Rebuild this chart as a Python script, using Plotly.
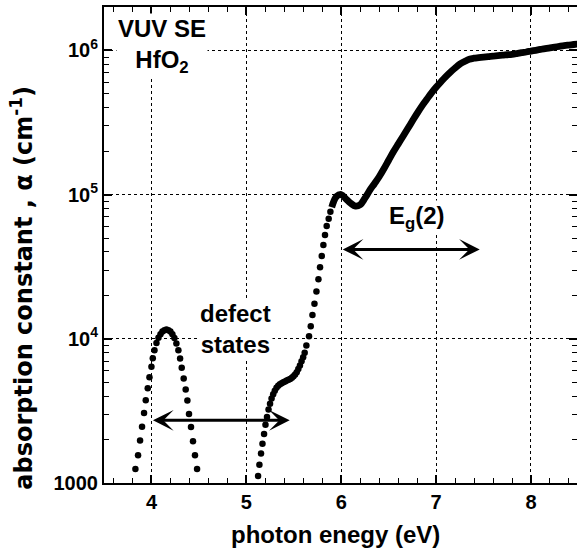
import math
import plotly.graph_objects as go

# ---- data (photon energy in eV, absorption in cm^-1) ----
defect_E = [3.831, 3.859, 3.880, 3.901, 3.922, 3.940, 3.961, 3.979, 4.000, 4.014,
            4.032, 4.053, 4.074, 4.095, 4.116, 4.137, 4.158, 4.179, 4.200, 4.221,
            4.242, 4.263, 4.284, 4.302, 4.319, 4.340, 4.361, 4.379, 4.396, 4.417,
            4.438, 4.459, 4.481, 4.502]
defect_alpha = [1.25e3, 1.56e3, 1.97e3, 2.46e3, 3.06e3, 3.75e3, 4.54e3, 5.41e3, 6.39e3, 7.34e3,
                8.34e3, 9.37e3, 1.016e4, 1.076e4, 1.122e4, 1.148e4, 1.159e4, 1.148e4, 1.122e4, 1.076e4,
                1.012e4, 9.29e3, 8.34e3, 7.30e3, 6.29e3, 5.30e3, 4.45e3, 3.73e3, 3.01e3, 2.45e3,
                1.95e3, 1.56e3, 1.25e3, 1.00e3]

edge_E = [5.124, 5.138, 5.155, 5.170, 5.187, 5.202, 5.218, 5.234, 5.250, 5.266,
          5.283, 5.300, 5.318, 5.336, 5.354, 5.372, 5.390, 5.408, 5.426, 5.444,
          5.462, 5.480, 5.497, 5.514, 5.531, 5.548, 5.565, 5.582, 5.599, 5.615,
          5.633, 5.661, 5.679, 5.697, 5.718, 5.739, 5.760, 5.777, 5.795, 5.812,
          5.829, 5.847, 5.868, 5.886]
edge_alpha = [1.12e3, 1.34e3, 1.60e3, 1.87e3, 2.19e3, 2.53e3, 2.87e3, 3.24e3, 3.55e3, 3.85e3,
              4.12e3, 4.37e3, 4.57e3, 4.73e3, 4.84e3, 4.92e3, 4.99e3, 5.06e3, 5.13e3, 5.20e3,
              5.27e3, 5.37e3, 5.50e3, 5.65e3, 5.86e3, 6.17e3, 6.53e3, 7.00e3, 7.46e3, 8.00e3,
              8.97e3, 1.04e4, 1.22e4, 1.46e4, 1.75e4, 2.13e4, 2.59e4, 3.13e4, 3.75e4, 4.47e4,
              5.24e4, 6.05e4, 6.81e4, 7.62e4]

band_E = [5.90, 5.95, 6.00, 6.05, 6.10, 6.15, 6.20, 6.25, 6.30, 6.35,
          6.40, 6.45, 6.50, 6.55, 6.60, 6.65, 6.70, 6.75, 6.80, 6.85,
          6.90, 6.95, 7.00, 7.05, 7.10, 7.15, 7.20, 7.25, 7.30, 7.35,
          7.40, 7.45, 7.50, 7.55, 7.60, 7.65, 7.70, 7.75, 7.80, 7.85,
          7.90, 7.95, 8.00, 8.05, 8.10, 8.15, 8.20, 8.25, 8.30, 8.35,
          8.40, 8.45, 8.50]
band_alpha = [8.18e4, 9.70e4, 1.002e5, 9.33e4, 8.71e4, 8.32e4, 8.51e4, 9.44e4, 1.07e5, 1.19e5,
              1.33e5, 1.51e5, 1.73e5, 1.98e5, 2.24e5, 2.53e5, 2.86e5, 3.24e5, 3.66e5, 4.11e5,
              4.56e5, 5.06e5, 5.55e5, 6.04e5, 6.56e5, 7.06e5, 7.55e5, 8.04e5, 8.38e5, 8.69e5,
              8.83e5, 8.91e5, 8.99e5, 9.06e5, 9.14e5, 9.20e5, 9.27e5, 9.33e5, 9.40e5, 9.51e5,
              9.64e5, 9.75e5, 9.89e5, 1.002e6, 1.016e6, 1.030e6, 1.042e6, 1.054e6, 1.067e6, 1.079e6,
              1.089e6, 1.099e6, 1.109e6]

x_ticks = [4, 5, 6, 7, 8]
x_ticktext = ["4", "5", "6", "7", "8"]
y_ticks = [1e3, 1e4, 1e5, 1e6]
y_ticktext = ["1000", "10<sup>4</sup>", "10<sup>5</sup>", "10<sup>6</sup>"]
x_minor = [3.6, 3.8, 4.2, 4.4, 4.6, 4.8, 5.2, 5.4, 5.6, 5.8, 6.2, 6.4, 6.6, 6.8,
           7.2, 7.4, 7.6, 7.8, 8.2, 8.4]
y_minor = [m * 10 ** e for e in (3, 4, 5) for m in range(2, 10)]

FONT = "Liberation Sans, Arial, Helvetica, sans-serif"
WIDE = "DejaVu Sans, Verdana, sans-serif"

fig = go.Figure()
fig.add_trace(go.Scatter(x=defect_E, y=defect_alpha, mode="markers",
                         marker=dict(color="black", size=6.5), cliponaxis=False))
fig.add_trace(go.Scatter(x=edge_E, y=edge_alpha, mode="markers",
                         marker=dict(color="black", size=6.5), cliponaxis=False))
fig.add_trace(go.Scatter(x=band_E, y=band_alpha, mode="lines",
                         line=dict(color="black", width=6.8, shape="spline"), cliponaxis=True))
# invisible trace to carry the right-hand tick axis
fig.add_trace(go.Scatter(x=[band_E[0]], y=[band_alpha[0]], mode="markers",
                         marker=dict(opacity=0), yaxis="y2", hoverinfo="skip"))

YR = [3, math.log10(2e6)]

fig.update_layout(
    width=577, height=553,
    margin=dict(l=104, r=0, t=7, b=70),
    paper_bgcolor="white", plot_bgcolor="white",
    showlegend=False,
    font=dict(family=FONT, size=20, color="black", weight="bold"),
    xaxis=dict(range=[3.5, 8.485], tickvals=x_ticks, ticktext=x_ticktext,
               ticks="inside", ticklen=8, tickwidth=1.5, tickcolor="black",
               showline=True, linecolor="black", linewidth=2, mirror="ticks",
               showgrid=True, gridcolor="black", griddash="dot", gridwidth=1,
               zeroline=False,
               tickfont=dict(family=FONT, size=20, weight="bold"),
               minor=dict(tickvals=x_minor, ticks="inside", ticklen=5,
                          tickcolor="black", tickwidth=1.2, showgrid=False)),
    yaxis=dict(type="log", range=YR, tickvals=y_ticks, ticktext=y_ticktext,
               ticks="inside", ticklen=8, tickwidth=1.5, tickcolor="black",
               showline=True, linecolor="black", linewidth=2, mirror=False,
               showgrid=True, gridcolor="black", griddash="dot", gridwidth=1,
               zeroline=False,
               tickfont=dict(family=FONT, size=20, weight="bold"),
               minor=dict(tickvals=y_minor, ticks="inside", ticklen=5,
                          tickcolor="black", tickwidth=1.2, showgrid=False)),
    yaxis2=dict(type="log", range=YR, overlaying="y", side="right",
                tickvals=y_ticks, ticktext=["", "", "", ""],
                ticks="inside", ticklen=8, tickwidth=1.5, tickcolor="black",
                showline=False, showgrid=False, zeroline=False,
                minor=dict(tickvals=y_minor, ticks="inside", ticklen=5,
                           tickcolor="black", tickwidth=1.2, showgrid=False)),
)

ann_font = dict(family=FONT, size=24, color="black", weight="bold")
fig.add_annotation(x=4.11, y=math.log10(1.07e6), xref="x", yref="y",
                   text="VUV SE<br>HfO<sub>2</sub>", showarrow=False,
                   font=ann_font, bgcolor="white", align="center",
                   xanchor="center", yanchor="middle")
fig.add_annotation(x=4.888, y=math.log10(1.17e4), xref="x", yref="y",
                   text="defect<br>states", showarrow=False,
                   font=ann_font, bgcolor="white", align="center",
                   xanchor="center", yanchor="middle")
fig.add_annotation(x=6.796, y=math.log10(6.95e4), xref="x", yref="y",
                   text="E<sub>g</sub>(2)", showarrow=False,
                   font=ann_font, bgcolor="white", align="center",
                   xanchor="center", yanchor="middle")

# double headed arrows
for (x0, x1, yv) in [(4.0, 5.457, 2.72e3), (6.0, 7.46, 4.17e4)]:
    fig.add_annotation(x=x1, y=math.log10(yv), ax=x0, ay=math.log10(yv),
                       xref="x", yref="y", axref="x", ayref="y",
                       text="", showarrow=True, arrowhead=3, startarrowhead=3,
                       arrowside="end+start", arrowwidth=3, arrowsize=1.15,
                       startarrowsize=1.15, arrowcolor="black", standoff=0,
                       startstandoff=0)

# axis titles
fig.add_annotation(x=(22 - 104) / 473, y=(483.3 - 288) / 476, xref="paper", yref="paper",
                   text="absorption constant , α (cm<sup>-1</sup>)", textangle=-90,
                   showarrow=False, font=dict(family=WIDE, size=24, color="black", weight="bold"),
                   xanchor="center", yanchor="middle")
fig.add_annotation(x=(335.5 - 104) / 473, y=(483.3 - 535) / 476, xref="paper", yref="paper",
                   text="photon enegy (eV)", showarrow=False, font=ann_font,
                   xanchor="center", yanchor="middle")

fig.write_html("out.html")
